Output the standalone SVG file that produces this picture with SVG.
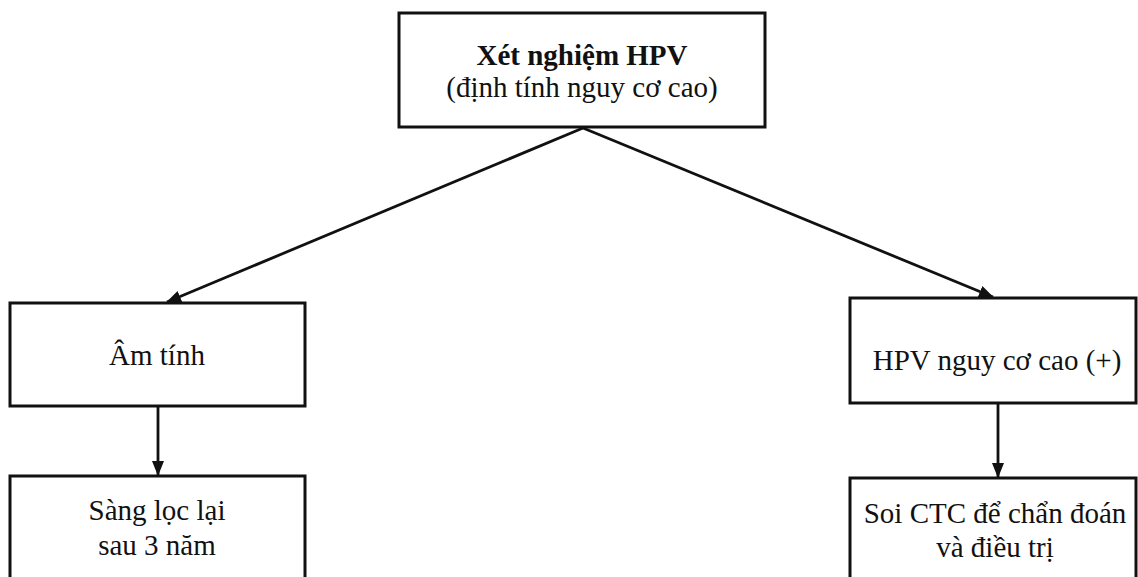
<svg xmlns="http://www.w3.org/2000/svg" width="1138" height="577" viewBox="0 0 1138 577">
<style>
.box{fill:#fff;stroke:#111;stroke-width:3}
.t{font-family:"Liberation Serif","Times New Roman",serif;font-size:29px;fill:#111;text-anchor:middle}
.b{font-weight:bold}
.c{stroke:#111;stroke-width:2.8;fill:none}
</style>
<defs>
<marker id="ah" markerUnits="userSpaceOnUse" markerWidth="16" markerHeight="14" refX="14" refY="6" orient="auto">
<path d="M0,0 L15,6 L0,12 z" fill="#111"/>
</marker>
</defs>
<rect width="1138" height="577" fill="#fff"/>
<g id="connectors">
<line class="c" x1="583" y1="128" x2="167" y2="302" marker-end="url(#ah)"/>
<line class="c" x1="583" y1="128" x2="993" y2="297" marker-end="url(#ah)"/>
<line class="c" x1="158" y1="406" x2="158" y2="475" marker-end="url(#ah)"/>
<line class="c" x1="998" y1="403" x2="998" y2="477" marker-end="url(#ah)"/>
</g>
<g id="n-hpv">
<rect class="box" x="399" y="13" width="366" height="114"/>
<text class="t b" x="582" y="65">Xét nghiệm HPV</text>
<text class="t" x="582" y="97">(định tính nguy cơ cao)</text>
</g>
<g id="n-am">
<rect class="box" x="10" y="303" width="295" height="103"/>
<text class="t" x="157" y="365">Âm tính</text>
</g>
<g id="n-duong">
<rect class="box" x="850" y="298" width="286" height="105"/>
<text class="t" x="997" y="370">HPV nguy cơ cao (+)</text>
</g>
<g id="n-sang">
<rect class="box" x="10" y="476" width="295" height="120"/>
<text class="t" x="157" y="520">Sàng lọc lại</text>
<text class="t" x="157" y="555">sau 3 năm</text>
</g>
<g id="n-soi">
<rect class="box" x="850" y="478" width="286" height="120"/>
<text class="t" x="995" y="523">Soi CTC để chẩn đoán</text>
<text class="t" x="995" y="557">và điều trị</text>
</g>
</svg>
